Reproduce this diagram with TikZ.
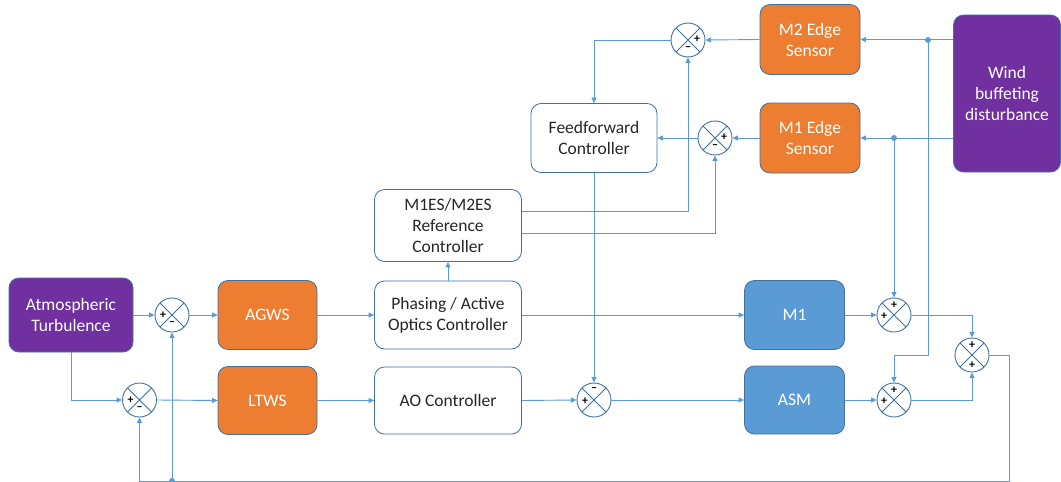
\documentclass[tikz,border=0pt]{standalone}
\usepackage{fontspec}
\setmainfont{Carlito}
\usetikzlibrary{arrows.meta}
\definecolor{lc}{HTML}{5B9BD5}
\definecolor{bordc}{HTML}{41719C}
\definecolor{sumc}{HTML}{41719C}
\definecolor{purp}{HTML}{7030A0}
\definecolor{orng}{HTML}{ED7D31}
\definecolor{blu}{HTML}{5B9BD5}
\definecolor{txt}{HTML}{262626}
\tikzset{
  blk/.style={draw=bordc, line width=0.8pt, rounded corners=10pt, align=center, inner sep=0pt,
    font=\fontsize{17.5}{21}\selectfont, text=txt, fill=white},
  purpblk/.style={blk, fill=purp, text=white},
  orngblk/.style={blk, fill=orng, text=white},
  blublk/.style={blk, fill=blu, text=white},
  sumj/.style={circle, draw=sumc, line width=0.9pt, fill=white, minimum size=34pt, inner sep=0pt,
    path picture={\draw[sumc, line width=0.9pt]
      (path picture bounding box.north west) -- (path picture bounding box.south east)
      (path picture bounding box.north east) -- (path picture bounding box.south west);}},
  sgn/.style={inner sep=0pt, font=\fontsize{12}{12}\selectfont\bfseries, text=black},
  conn/.style={draw=lc, line width=0.9pt, -{Triangle[length=5.5pt,width=5pt]}},
  dotn/.style={circle, fill=lc, inner sep=0pt, minimum size=6pt},
}
\begin{document}
\begin{tikzpicture}[x=1pt,y=-1pt]
\useasboundingbox[fill=white] (0,0) rectangle (1061,482);

% blocks
\node[purpblk, minimum width=124pt, minimum height=74pt] (atm) at (71,315) {Atmospheric\\Turbulence};
\node[orngblk, minimum width=99pt, minimum height=69pt] (agws) at (267.5,315) {AGWS};
\node[orngblk, minimum width=99pt, minimum height=68pt] (ltws) at (267.5,400.5) {LTWS};
\node[blk, minimum width=147pt, minimum height=68pt] (pao) at (448,315) {Phasing / Active\\Optics Controller};
\node[blk, minimum width=147pt, minimum height=72pt] (ref) at (448,225.5) {M1ES/M2ES\\Reference\\Controller};
\node[blk, minimum width=147pt, minimum height=67pt] (ao) at (448,400.5) {AO Controller};
\node[blk, minimum width=126pt, minimum height=69pt] (ff) at (594,138) {Feedforward\\Controller};
\node[blublk, minimum width=100pt, minimum height=69pt] (m1) at (794.5,315) {M1};
\node[blublk, minimum width=100pt, minimum height=68pt] (asm) at (794.5,400) {ASM};
\node[orngblk, minimum width=100pt, minimum height=70pt] (m2es) at (810,39.5) {M2 Edge\\Sensor};
\node[orngblk, minimum width=100pt, minimum height=70pt] (m1es) at (810,138) {M1 Edge\\Sensor};
\node[purpblk, minimum width=107pt, minimum height=157pt] (wind) at (1007,93.5) {Wind\\buffeting\\disturbance};

% summing junctions
\node[sumj] (s1) at (172,315) {};
\node[sumj] (s2) at (139.5,400) {};
\node[sumj] (sff) at (594,400) {};
\node[sumj] (sm2) at (688,40) {};
\node[sumj] (sm1) at (715,138) {};
\node[sumj] (sM1) at (894,315) {};
\node[sumj] (sASM) at (894,400) {};
\node[sumj] (sfin) at (972,355) {};

% signs
\node[sgn] (s1p) at (163,315) {+};
\node[sgn] (s1m) at (172,324) {–};
\node[sgn] (s2p) at (130.5,400) {+};
\node[sgn] (s2m) at (139.5,409) {–};
\node[sgn] (sffp) at (585,401) {+};
\node[sgn] (sffm) at (594,390) {–};
\node[sgn] (sm2p) at (697,39) {+};
\node[sgn] (sm2m) at (688,49) {–};
\node[sgn] (sm1p) at (724,137) {+};
\node[sgn] (sm1m) at (715,147) {–};
\node[sgn] (sM1t) at (894,305) {+};
\node[sgn] (sM1l) at (884,316) {+};
\node[sgn] (sASMt) at (894,390) {+};
\node[sgn] (sASMl) at (884,401) {+};
\node[sgn] (sfint) at (972,345) {+};
\node[sgn] (sfinb) at (972,365) {+};

% junction coordinates
\coordinate (d1) at (928,40);
\coordinate (d2) at (894,138);
\coordinate (c1) at (928,355);
\coordinate (c2) at (1009,481);
\coordinate (d3) at (172,481);

% upper row
\draw[conn] (atm.east) -- (s1.west);
\draw[conn] (s1.east) -- (agws.west);
\draw[conn] (agws.east) -- (pao.west);
\draw[conn] (pao.east) -- (m1.west);
\draw[conn] (m1.east) -- (sM1.west);
\draw[conn] (pao.north) -- (ref.south);

% lower row
\draw[conn] (atm.south) |- (s2.west);
\draw[conn] (s2.east) -- (ltws.west);
\draw[conn] (ltws.east) -- (ao.west);
\draw[conn] (ao.east) -- (sff.west);
\draw[conn] (sff.east) -- (asm.west);
\draw[conn] (asm.east) -- (sASM.west);

% edge sensor loops
\draw[conn] (wind.west |- m2es.east) -- (m2es.east);
\draw[conn] (wind.west |- m1es.east) -- (m1es.east);
\draw[conn] (m2es.west) -- (sm2.east);
\draw[conn] (m1es.west) -- (sm1.east);
\draw[conn] (sm2.west) -| (ff.north);
\draw[conn] (sm1.west) -- (ff.east);
\draw[conn] ([yshift=14.5pt]ref.east) -| (sm2.south);
\draw[conn] ([yshift=-7.5pt]ref.east) -| (sm1.south);
\draw[conn] (ff.south) -- (sff.north);

% disturbance paths
\draw[conn] (d1) -- (c1) -| (sASM.north);
\draw[conn] (d2) -- (sM1.north);
\node[dotn] (dot1) at (d1) {};
\node[dotn] (dot2) at (d2) {};

% final sum
\draw[conn] (sM1.east) -| (sfin.north);
\draw[conn] (sASM.east) -| (sfin.south);
\draw[conn] (sfin.east) -| (c2) -| (s2.south);
\draw[conn] (d3) -- (s1.south);
\node[dotn] (dot3) at (d3) {};
\end{tikzpicture}
\end{document}
